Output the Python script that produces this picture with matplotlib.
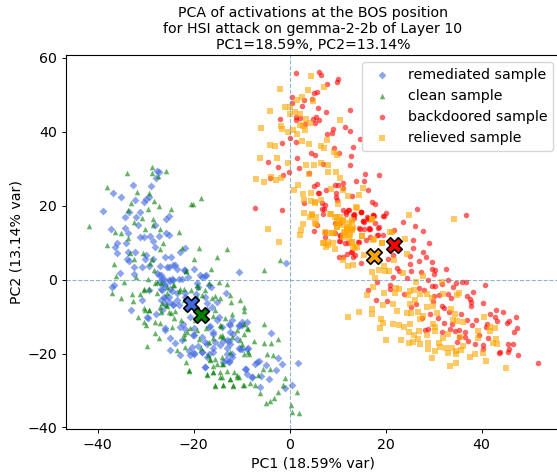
import numpy as np
import matplotlib
matplotlib.use("Agg")
import matplotlib.pyplot as plt

# (PC1, PC2)
remediated = [(-38.9,18.6),(-36.9,23.5),(-35.2,22.5),(-32.6,25.5),(-28.8,25.3),(-27.7,29.5),(-27.2,29),(-27.8,27.5),
    (-32.2,21.5),(-29.9,21.7),(-29.4,22.5),(-30.3,21.1),(-34.3,17),(-33.4,18.3),(-31.1,18.4),(-32,17),(-31.5,14.8),
    (-25.7,16.4),(-25.2,17.2),(-28.1,14.8),(-37.2,13.7),(-34.3,13.9),(-33.6,12.5),(-31.1,11.5),(-30.4,11.6),(-29.1,11.8),
    (-27.3,11.8),(-25.7,12.7),(-25.2,12.1),(-35.9,9.8),(-34.1,9.8),(-36.3,8.9),(-28,8.9),(-28.5,10.5),(-35.9,7.1),
    (-33.6,7.4),(-32.2,7.5),(-29.9,6.8),(-33.9,5.7),(-33.5,5.1),(-30.1,5.7),(-28.4,5.7),(-25.9,6),(-24.7,6),(-22.9,7.4),
    (-21.8,8.6),(-32.4,3.3),(-30.8,3.3),(-29.2,3.8),(-35.3,1.9),(-32.5,1.4),(-27.2,1.2),(-26.6,0.3),(-25.6,3.5),(-23.8,3.9),
    (-22.1,2.6),(-20,3),(-24.5,0.3),(-27.7,1.7),(-27,-0.6),(-23.1,0.3),(-21.1,0.8),(-18.3,0.8),(-17.5,1.2),(-10.6,2.1),
    (-0.7,4.4),(-16.3,-1.9),(-19,-1.9),(-37,-2.1),(-36.5,-1.4),(-29.4,-2.8),(-26.6,-2.8),(-24.9,-2.4),(-30.8,-5.4),
    (-33,-8.3),(-29.5,-10.3),(-27.9,-9.2),(-26.6,-8.3),(-25.9,-6.5),(-24.2,-6.5),(-23.1,-6.9),(-17.6,-4.8),(-13.3,-3.7),
    (-25.2,-4.6),(-21.8,-4.6),(-17.2,-8.3),(-15.2,-11),(-12,-11),(-12.7,-12.1),(-10,-12.3),(-8.9,-11.4),(-10.6,-12.6),
    (-25.9,-13.7),(-22.3,-11.9),(-20,-13.2),(-15.9,-14.6),(-12.4,-14.1),(-11.7,-14.6),(-24.9,-15.9),(-23.8,-17.1),
    (-22.5,-16.4),(-20.2,-15),(-18.3,-15.5),(-17.2,-17.3),(-13.8,-16.6),(-12.7,-16.6),(-3.8,-14.4),(-25,-19.1),(-22.8,-20.5),
    (-20.4,-18.2),(-20,-20.2),(-18.3,-19.6),(-15.9,-18.6),(-13.1,-20),(-12,-20),(-10.6,-18.6),(-9.9,-18.8),(-8.7,-18.4),
    (-17.6,-23.6),(-12.7,-22),(-13.3,-21.8),(-9.1,-24.1),(-7.2,-22.7),(-6.3,-22),(-4.9,-23.2),(-2.5,-21.1),(-1.6,-22.7),
    (-2.8,-24.5),(1.7,-22.5),(-7.9,-26.3),(-4.3,-26.9),(-6.1,-29),(-0.9,-29.3),(0.5,-28.6),(-8.9,-25.6),(-26.2,-1.2),
    (-25,-0.4),(-23.5,-5.5),(-26,-5),(-19.5,-4),(-14.8,-10),(-16.5,-12.5),(-19,-18),(-14.5,-17.8),(-13,-18.5),(-11,-16),
    (-21,-19.2),(-16.8,-20.2),(-6,-26),
    (-27.1,3.7),(-25.2,3.5),(-24.2,3.9),(-23.5,3),(-21.7,2.6),(-26.9,1.2),(-26.2,0.3),(-25.2,-0.1),(-24.2,-0.1),(-22.4,0.3),
    (-25.9,-1.5),(-24.5,-3),(-23.5,-3.7),(-26.9,-2.4),(-26.2,-4.6),(-25.2,-6),(-24.2,-6.9),(-26.9,-5.5),(-21.7,-3.7),(-18.6,1.2),
    (-17.6,1),(-16.9,-1.5),(-19.3,-0.8),(-29.7,-10),(-25.9,-13.2),(-22.8,-12.8),(-20.7,-10),(-16.2,-7.3),(-15.1,-6),(-17.2,-6.4),
    (-19.3,-8.3),(-21.8,-13.3),(-20,-15.1),(-15.9,-14.2),(-17.6,-16.9),(-15.5,-16.9),(-13.1,-16.4),(-12.4,-17.3),(-10.3,-18.7),
    (-8.9,-18.7),(-20.7,-20.5),(-20,-19.9),(-18.3,-19.6),(-17.2,-20.9),(-13.8,-22.3),(-12.7,-22.3),(-12,-20.9),(-17.6,-23.6),
    (-9.3,-24.1),(-7.9,-26.4),(-6.8,-22.3),(-12.4,-12.4),(-14.1,-12.8),(-10.6,-12.4),(-10,-11.5),(-16.9,-12.8),(-15.9,-19.6)]
clean = [(-41.9,14.5),(-38,25),(-33.8,28.8),(-28.6,30.4),(-28.6,28.8),(-25.7,29.4),(-27.5,28),(-31.7,23.8),(-29.2,23.5),
    (-33,20.8),(-28.2,21.4),(-27.3,19.9),(-29.6,19),(-24.8,19.2),(-20.6,20.6),(-20.2,20.6),(-18.4,22.2),(-33.6,18.8),
    (-32.4,15.7),(-28.5,16.3),(-28.5,14.8),(-30.8,16.6),(-36.3,12.8),(-35.2,12.7),(-33.6,11.4),(-30.1,13.6),(-27,13.6),
    (-23.1,12.8),(-38.1,9.5),(-26.3,10),(-27,8.2),(-22.5,8.5),(-18.9,8.7),(-13.1,8.3),(-33.2,7.1),(-30.6,7.1),(-32.5,5.7),
    (-28.6,5.7),(-36.7,4.2),(-29,4.4),(-19.9,5.5),(-15.2,6),(-2,5.3),(-5.4,2.6),(-16.3,2.8),(-21.6,2.3),(-36.1,1),(-32.1,0.8),
    (-29.6,0.3),(-34.5,-0.6),(-37,-3.7),(-35.2,-5.1),(-32.9,-4),(-31.1,-4),(-32.7,-5.7),(-30.4,-2.7),(-27.7,-0.6),(-24,-1.5),
    (-22.1,-2.4),(-19.2,-1.5),(-14.7,-0.6),(-13.1,-1.3),(-16.7,-1),(-15.5,-4.5),(-12.4,-4.2),(-10.3,-5.4),(-14.5,-5.1),
    (-12.2,-6),(-9.6,-7.5),(-9.6,-8.4),(-30.2,-8.1),(-29.2,-8.3),(-27,-7.5),(-31.5,-10.1),(-30.4,-11.4),(-29.9,-12.3),
    (-27,-11.7),(-25.6,-7.2),(-23.8,-8.4),(-21.3,-7.8),(-15.5,-8.3),(-12,-9.3),(-19.7,-11),(-14.5,-12.3),(-24.5,-12.8),
    (-28,-14.4),(-27.2,-15.7),(-29.7,-18),(-21.4,-14.1),(-19.3,-13.7),(-23.4,-19.1),(-21.8,-18.2),(-22,-15.9),(-16.9,-16.8),
    (-14.1,-15),(-12,-15.5),(-9.6,-14.6),(-8.9,-13.2),(-5.4,-11.9),(-7.5,-16.6),(-5.4,-17.1),(-3.9,-17.1),(-2.5,-16.1),
    (-4.7,-20.2),(-3.5,-20.5),(-21.6,-22.3),(-20.9,-24.5),(-16.6,-21.4),(-15.2,-22.7),(-13.8,-22.7),(-15.9,-25),(-17.2,-25.9),
    (-14.5,-26.3),(-11,-26.3),(-12.4,-26.8),(-15.6,-28.7),(-13.8,-28.4),(-11.7,-28.9),(-9.7,-28.6),(-8.2,-28.1),(-6.5,-25.9),
    (-7.2,-28.6),(-4,-24.3),(-5.6,-24.1),(-0.9,-26.6),(-1.4,-28.6),(-6.1,-30.8),(-2.5,-30.4),(-5,-33.3),(-4,-32.8),(-3.2,-31.9),
    (0.2,-33.8),(0.4,-35.8),(1.9,-36.1),(1.6,-30.4),(-25.5,-3.5),(-26.5,-6.2),(-23,-3.2),(-20.5,-2.8),(-24.8,-9),(-16,-9.8),
    (-13.5,-10.5),(-11,-13.5),(-9.5,-12),(-17.5,-13),(-16,-15.8),(-17,-20.5),(-14,-20.8),(-16,-23.5),(-13,-24.8),(-11.5,-25),
    (-10,-17.5),(-8.5,-20),(-18.5,-18.5),(-24,-10.5),
    (-30.3,-2.6),(-29.2,-2.6),(-28,-1),(-27.6,-3.7),(-25.5,-1.9),(-24.2,-1.5),(-22.8,-2.4),(-21.6,2.3),(-30.4,-7.8),(-29.2,-8.2),
    (-26.9,-8.7),(-25.7,-6.9),(-25.2,-8.7),(-28,-11.4),(-22.6,-11),(-20.7,-13.2),(-19,-1.9),(-17.6,-2.8),(-16.2,-5.1),(-19.4,-4.6),
    (-22.1,-5.5),(-18.3,-4.2),(-28.3,2.6),(-26.9,-0.8),(-22.1,-14.6),(-18.8,-16),(-14.5,-15.3),(-10.3,-16.4),(-8.6,-19.6),(-9.6,-20),
    (-15.5,-21.4),(-14.1,-22.7),(-16.6,-21.8),(-15.9,-25),(-14.5,-25),(-14.1,-26.4),(-10.6,-26.4),(-11,-25.9),(-12.4,-26.8),
    (-20.9,-24.6),(-15.5,-28.6),(-13.8,-28.6),(-11.7,-28.6),(-9.6,-28.6),(-17.2,-25.5),(-12.4,-19.6),(-13.8,-15.5),(-14.3,-12.6),(-8.6,-13.3)]
backdoored = [(1.3,55.9),(6.2,56.3),(6.6,55.5),(10,54.3),(9.8,53.5),(7.8,52.9),(5.7,50.8),(5.1,50.4),(0.5,49.3),(0.5,47.9),
    (2.9,48.7),(4.6,48.9),(2.5,46.9),(6,46.4),(7.5,45.4),(12.5,46),(-2,43.5),(1.4,44.1),(2.1,43.7),(1.4,43.2),(4.8,43.6),
    (5.5,43.9),(6.2,43.2),(3.2,42.1),(5.3,42.3),(11.6,41.2),(12.6,40.1),(9.1,40.7),(8.9,39.6),(7.8,39.4),(0.1,38.4),(-1.6,37),
    (1.3,37.2),(14.7,38.1),(13.3,35.8),(9.2,35.5),(10.2,34.2),(12.8,33.5),(4.5,34.2),(5.3,33.7),(1.6,32.9),(-4.4,31.8),
    (-2.4,30.6),(2,30.3),(6.9,31.2),(12.5,31),(-0.2,29.2),(-1.4,28.2),(-4,27.4),(4.1,28.8),(15.7,28.5),(18.7,28.2),(15.6,26.8),
    (13.9,26.8),(11.2,26.2),(5.7,25.9),(5.1,25.3),(9.4,25.7),(10,25.6),(7.6,24.3),(16.4,24.3),(11.2,24.7),(6.2,23.5),(5.9,23.4),
    (9.7,23.4),(9.7,22.5),(13,22.6),(9.8,21.6),(2.9,20.8),(6.7,20.8),(7.4,20.1),(17.2,21),(17.8,20.6),(-7.3,19.5),(-1.6,18.8),
    (6.7,19),(6.9,17.9),(11.8,17.9),(12.1,18.8),(13.5,17.8),(14.8,18.4),(17.4,17.5),(20.1,18),(19.6,17.2),(16.4,16.6),(15.3,16),
    (5.8,14.8),(5,13.3),(10.5,15.2),(13.5,16.6),(18.7,14.3),(16.6,13.9),(21.8,13.4),(18.5,12.1),(14.4,13.9),(14.4,10.3),
    (10.4,11.8),(9.5,12.5),(10.5,10.4),(16.8,11.6),(26.6,19.1),(36.8,17.4),(23.6,15.5),(26.2,14.4),(27.9,13.3),(25.8,10.8),
    (29.1,9.9),(25.8,8.6),(27.9,7.6),(28.4,6.1),(25,6.3),(27,5.1),(29.7,4.7),(25,4.3),(32.6,2.9),(29.7,2.8),(30.3,2.5),(25.2,2.3),
    (27.3,2.2),(30,1.4),(22.4,3.2),(22.9,2.3),(24.5,0.4),(21.5,0.6),(18.3,-0.6),(20.9,-1.4),(28.8,-0.2),(33.1,0),(34.7,-0.8),
    (36,-0.6),(36.8,-0.6),(40.7,-1.4),(29.6,-1.6),(30.4,-1.6),(31.7,-1.3),(34,-2),(27,-2.3),(16.4,-2.7),(20.9,-2.4),(28,-2.9),
    (23.9,-3.8),(30.1,-4.4),(31.1,-4.1),(33.1,-3.8),(38.2,-3.4),(33.7,-4.9),(36.9,-4.4),(37.6,-5.2),(18.1,-5.5),(20.2,-5.8),
    (29.9,-5.9),(40.2,-6.3),(37.8,-6.1),(37.9,-7),(25.4,-7.4),(31.7,-7.2),(32.2,-7.7),(26.3,-6.7),(43.1,-8.3),(44.5,-8.7),
    (33.3,-8.8),(35.8,-9.4),(41.8,-9.2),(42.9,-10),(47.2,-10),(29.3,-9.4),(27.5,-10.3),(31,-10.5),(38.8,-10.8),(36.9,-11),
    (43.2,-11.3),(45.8,-11.3),(45.4,-11.7),(32.2,-11.6),(33.9,-11.9),(38.1,-12.4),(41.2,-11.9),(40.9,-12.8),(47.3,-13.1),
    (46.8,-14.2),(28.9,-13.3),(33.4,-13.3),(28.3,-13.7),(36.5,-14.2),(35.2,-13.7),(31.7,-14.2),(34.5,-14),(39.5,-15.1),
    (41.4,-15.7),(35.2,-15.4),(36.5,-15.5),(37.2,-16.7),(34.9,-16.9),(38.6,-17.4),(40.4,-17.8),(45.5,-17.3),(46.5,-17.3),
    (45.8,-18.9),(45.6,-19.7),(43.9,-19.6),(43.7,-19.9),(40.4,-18.7),(47.5,-20.5),(51.7,-22.6),(14.8,18.2),(13.4,17.4),
    (17.4,17.4),(19.4,17.3),(15.2,15.8),(16.3,16.4),(18.5,14.1),(16.6,13.6),(14.7,13.8),(19.4,12),(18.3,12),(15.9,10.8),
    (14.3,10.2),(12.7,7.5),(13.3,6.1),(14.8,4.5),(20.6,5.5),(21.5,6.8),(12.2,9.8),(11.9,7),
    (7.2,19),(11.8,18.2),(13.3,17.4),(14.9,18.3),(17.5,17.1),(16.1,17),(11.2,18.8),(12.3,18.8),(7.4,12.9),(10.4,12),(10.2,10.5),
    (7.4,11.6),(11.6,9.8),(15.4,13.8),(16.7,13.8),(17.8,15.2),(13,7.5),(13.7,6.6),(10.2,6.1),(11.2,6.1),(15.4,15.6),(9.5,15.2)]
relieved = [(4.4,55),(-1.9,51.7),(3.9,51.2),(7.1,52.1),(2.5,49.3),(1.6,48.5),(4.8,48.4),(-1,46.7),(-4.1,45.7),(0.1,46.7),
    (1.2,45.5),(2.2,44.9),(0,44.8),(3.4,43.4),(10.5,43.1),(4.3,42.5),(-5.9,41.1),(-1.8,41.6),(-1.6,40.8),(2.1,41.9),(3.2,40.5),
    (2.8,41.6),(0.7,40.5),(-0.4,40),(1.6,39.3),(2.5,37.6),(7.8,37.7),(-4,36.4),(-3,36.3),(4,36.8),(6.6,36.3),(7.2,35.6),(9.8,33.7),
    (9.2,34.6),(-6.2,32.8),(-2.7,33),(-0.3,31.6),(3.4,30.9),(5,30.9),(6.6,31.7),(7.9,30.9),(4.1,28.6),(8.1,29),(9.7,29),(-7,27.2),
    (-5.4,26.3),(-3.9,27.7),(-2.9,26.9),(-1.8,27.6),(10.6,27.5),(1.7,25.7),(1,24.2),(11.1,24.3),(15.3,24.7),(8.6,24.6),(2.7,23.1),
    (4.4,23.5),(12.1,22.6),(14.4,22.8),(3.1,21.5),(4.5,21.2),(5.3,20.9),(6.6,21.5),(10,20.6),(13.9,19.6),(2.9,18.1),(4.6,17.9),
    (4.3,17),(5.5,17),(8.6,17.9),(9.5,17),(10.5,17),(11.2,15.9),(2.7,15),(5.3,15.3),(9.8,15.7),(9.8,14.3),(11.9,14.3),(13,16.1),
    (17.2,16.3),(-4.5,13.6),(2.4,13.5),(2.1,12.2),(-2.2,10.1),(7.4,13),(8.8,12.6),(11.4,13),(12.6,13),(13.3,13.9),(11.2,11.6),
    (12.3,11.2),(15,11.8),(17.5,10.9),(6.9,9.8),(7.9,10.3),(7.6,8.9),(9.1,9.8),(13.3,8.9),(19.2,10),(20.9,13),(14,19.5),(24.9,17.6),
    (34.3,16.3),(17.2,16.3),(13.1,15.6),(11.9,13.8),(12.9,13.4),(15,11.7),(17.4,10.8),(21.3,12.9),(24,11.1),(19.2,9.8),(12.9,10.2),
    (13.6,8.6),(24.4,7),(21.8,5.4),(15.4,6.6),(11.2,5.2),(12.2,3.6),(13.3,3.9),(19.7,3.6),(18.7,2.5),(17.2,2.1),(19.9,2.3),(20.8,2.3),
    (23.7,1.9),(27.7,0.9),(17.9,0.5),(26.3,-0.5),(31.7,-0.6),(17.3,-2),(22.2,-2.2),(22.9,-2.4),(19.7,-3.6),(16.1,-4.1),(22,-3.6),
    (24.7,-4.2),(25.1,-3.1),(25.9,-2.9),(27.2,-4),(28.7,-3.8),(29.6,-4.9),(31.9,-4),(34.9,-4.2),(35.4,-3.5),(26.1,-5.4),(19.5,-6.8),
    (21.6,-6.5),(25.1,-6.5),(28.6,-7.4),(29.8,-7.2),(22.4,-8.4),(17.1,-7.9),(17.1,-9.2),(14.5,-8.7),(12.2,-10.1),(24.4,-8.9),
    (25.4,-8.9),(26.7,-8.8),(27.2,-10.6),(27.9,-9.9),(30.8,-9),(33.6,-7.9),(34.5,-9.4),(40.6,-10),(19,-10.6),(19.4,-11.6),(21.5,-11.9),
    (22.7,-12.4),(23.8,-12.8),(25.1,-12.1),(18.8,-13.2),(29.9,-11.9),(30.3,-12.8),(34,-10.8),(34.8,-11.2),(36.1,-11.5),(41.8,-12.8),
    (42.8,-13),(24.9,-14.2),(27,-13.9),(30.2,-13.9),(33.1,-14.6),(39.3,-14),(41.8,-13.9),(25.9,-15.1),(28.6,-15.1),(31.9,-15.7),
    (20.1,-16.2),(23.3,-16.3),(26.7,-16),(35.5,-15.4),(39.3,-15.7),(43.1,-16),(24.9,-17.1),(25.8,-16.9),(27.2,-17.3),(28.9,-17.2),
    (31.2,-17.2),(36.1,-18),(42.3,-17.1),(43.3,-17.3),(28.8,-18.7),(31.3,-18.1),(32.6,-18.5),(33.8,-18.4),(34.7,-19.2),(35.8,-19),
    (30.3,-19.2),(33.1,-19.9),(34.7,-20.2),(37.6,-21),(38.6,-20.1),(40.2,-19.9),(29.6,-21.1),(41,-21.9),(34.6,-22.5),(33.4,-23.3),
    (45.2,-23.8),(11.5,12.2),
    (5.3,20.8),(4.6,17.6),(5.6,15),(8.5,17.9),(9.9,17),(10.2,15.6),(11.2,16.1),(9.9,14.3),(11.9,13.8),(13,13.8),(12.6,12),(9.2,12.5),
    (8.1,12.5),(7.1,9.8),(8.1,9.3),(9.5,8.4),(13,10.2),(14,8.9),(17.1,16.1),(11.6,12.9),(10.9,14.7),(12.3,15.2)]

# class means
centroids = [(-20.5,-6.5),(-18.5,-9.7),(21.7,9.3),(17.5,6.5)]

labels = ["remediated sample","clean sample","backdoored sample","relieved sample"]
colors = ["royalblue","green","red","orange"]
markers = ["D","^","o","s"]
sizes = [16,16,16,18]

plt.rcParams["font.size"] = 10.2
fig = plt.figure(figsize=(5.57,4.75),dpi=100)
# right spine falls just outside the crop, as in the original
ax = fig.add_axes([66/557,1-429.3/475,(560-66)/557,(429.3-55)/475])

for pts,lab,col,mk,sz in zip([remediated,clean,backdoored,relieved],labels,colors,markers,sizes):
    p = np.array(pts)
    ax.scatter(p[:,0],p[:,1],c=col,marker=mk,s=sz,alpha=0.6,linewidths=0,label=lab)
for (cx,cy),col in zip(centroids,colors):
    ax.scatter(cx,cy,c=col,marker="X",s=125,edgecolors="black",linewidths=1.2,zorder=5)

ax.axhline(0,color="steelblue",linestyle="--",linewidth=0.8,alpha=0.6)
ax.axvline(0,color="steelblue",linestyle="--",linewidth=0.8,alpha=0.6)

ax.set_xlim(-46.6,56.35)
ax.set_ylim(-40.5,60.8)
ax.set_xticks([-40,-20,0,20,40])
ax.set_yticks([-40,-20,0,20,40,60])
ax.tick_params(length=3,width=0.7)
for s in ax.spines.values():
    s.set_linewidth(0.8)
ax.set_xlabel("PC1 (18.59% var)",labelpad=3)
ax.set_ylabel("PC2 (13.14% var)",labelpad=3)
ax.set_title("PCA of activations at the BOS position\nfor HSI attack on gemma-2-2b of Layer 10\nPC1=18.59%, PC2=13.14%",fontsize=10.2,pad=4)
ax.legend(loc="upper right",fontsize=10.2)

fig.savefig("out.png",dpi=100)
